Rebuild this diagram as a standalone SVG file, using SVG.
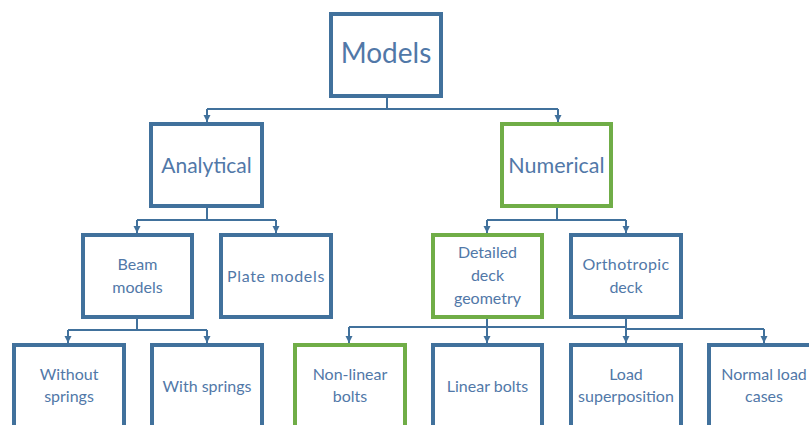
<svg xmlns="http://www.w3.org/2000/svg" width="809" height="425" viewBox="0 0 809 425">
<defs>
<style>
.b{fill:#fff;stroke:#41719C;stroke-width:4}
.g{fill:#fff;stroke:#70AD47;stroke-width:4}
.t{font-family:Lato,"Open Sans","Liberation Sans",sans-serif;fill:#5178A8;text-anchor:middle}
.s{font-size:16px}
.c{fill:none;stroke:#41719C;stroke-width:2}
</style>
<marker id="a" markerUnits="userSpaceOnUse" markerWidth="8" markerHeight="7" refX="4" refY="7" viewBox="0 0 8 7" orient="0">
<path d="M0.5,0 L7.5,0 L4,7 Z" fill="#41719C"/>
</marker>
</defs>
<rect width="809" height="425" fill="#fff"/>
<g id="connectors">
<path class="c" d="M387,98 V109"/>
<path class="c" d="M207,109 H558"/>
<path class="c" d="M207,109 V122" marker-end="url(#a)"/>
<path class="c" d="M558,109 V122" marker-end="url(#a)"/>
<path class="c" d="M207,208 V220"/>
<path class="c" d="M137,220 H276"/>
<path class="c" d="M137,220 V233" marker-end="url(#a)"/>
<path class="c" d="M276,220 V233" marker-end="url(#a)"/>
<path class="c" d="M557,208 V220"/>
<path class="c" d="M487,220 H626"/>
<path class="c" d="M487,220 V233" marker-end="url(#a)"/>
<path class="c" d="M626,220 V233" marker-end="url(#a)"/>
<path class="c" d="M137,319 V330"/>
<path class="c" d="M68,330 H207"/>
<path class="c" d="M68,330 V343" marker-end="url(#a)"/>
<path class="c" d="M207,330 V343" marker-end="url(#a)"/>
<path class="c" d="M487,319 V327"/>
<path class="c" d="M349,327 H626"/>
<path class="c" d="M349,327 V343" marker-end="url(#a)"/>
<path class="c" d="M487,327 V343" marker-end="url(#a)"/>
<path class="c" d="M626,319 V343" marker-end="url(#a)"/>
<path class="c" d="M626,329 H764"/>
<path class="c" d="M764,329 V343" marker-end="url(#a)"/>
</g>
<g id="models"><rect class="b" x="331" y="14" width="110" height="82"/><text class="t" x="386" y="63" font-size="28">Models</text></g>
<g id="analytical"><rect class="b" x="151" y="124" width="111" height="82"/><text class="t" x="206.5" y="173" font-size="21">Analytical</text></g>
<g id="numerical"><rect class="g" x="502" y="124" width="109" height="82"/><text class="t" x="556.5" y="173" font-size="21.5">Numerical</text></g>
<g id="beam"><rect class="b" x="83" y="235" width="109" height="82"/><text class="t s" x="137.5" y="270">Beam</text><text class="t s" x="137.5" y="293">models</text></g>
<g id="plate"><rect class="b" x="221" y="235" width="110" height="82"/><text class="t s" x="276" y="282" letter-spacing="0.7">Plate models</text></g>
<g id="detailed"><rect class="g" x="433" y="235" width="109" height="82"/><text class="t s" x="487.5" y="258">Detailed</text><text class="t s" x="487.5" y="281">deck</text><text class="t s" x="487.5" y="304">geometry</text></g>
<g id="orthotropic"><rect class="b" x="571" y="235" width="110" height="82"/><text class="t s" x="626" y="270" letter-spacing="0.4">Orthotropic</text><text class="t s" x="626" y="293">deck</text></g>
<g id="without"><rect class="b" x="14" y="345" width="110" height="100"/><text class="t s" x="69" y="380">Without</text><text class="t s" x="69" y="402">springs</text></g>
<g id="with"><rect class="b" x="152" y="345" width="110" height="100"/><text class="t s" x="207" y="392">With springs</text></g>
<g id="nonlinear"><rect class="g" x="295" y="345" width="110" height="100"/><text class="t s" x="350" y="380">Non-linear</text><text class="t s" x="350" y="402">bolts</text></g>
<g id="linear"><rect class="b" x="433" y="345" width="109" height="100"/><text class="t s" x="487.5" y="392">Linear bolts</text></g>
<g id="load"><rect class="b" x="571" y="345" width="110" height="100"/><text class="t s" x="626" y="380">Load</text><text class="t s" x="626" y="402">superposition</text></g>
<g id="normal"><rect class="b" x="709" y="345" width="110" height="100"/><text class="t s" x="764" y="380">Normal load</text><text class="t s" x="764" y="402">cases</text></g>
</svg>
